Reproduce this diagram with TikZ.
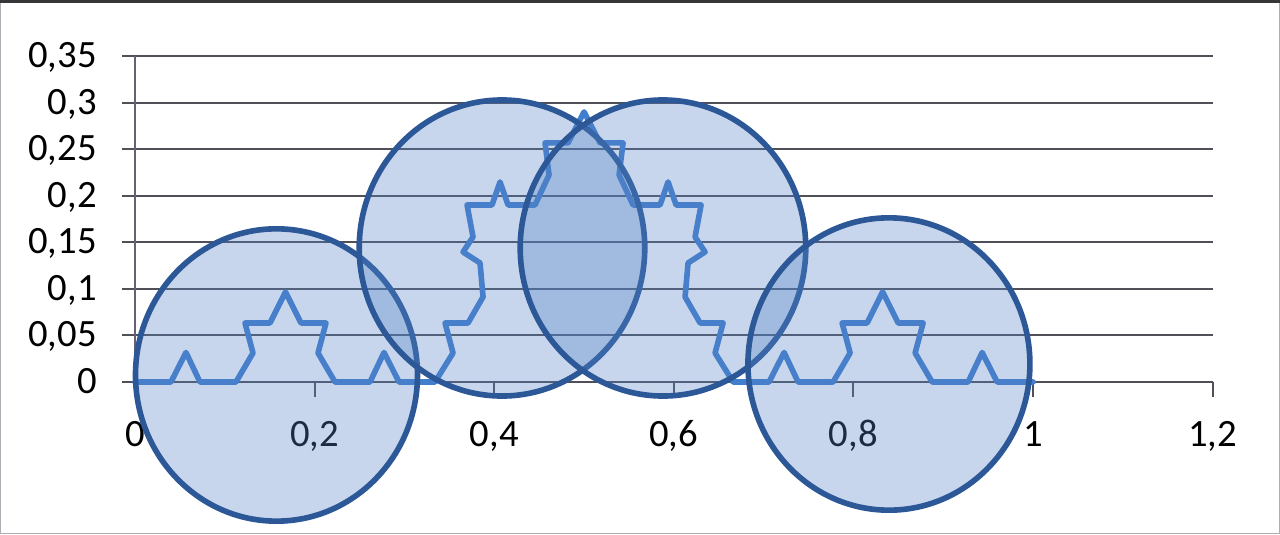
\documentclass[tikz,border=0pt]{standalone}
\usepackage{fontspec}
\setmainfont{Carlito}

\definecolor{GridGrey}{RGB}{80,80,88}
\definecolor{AxisGrey}{RGB}{105,95,118}
\definecolor{FrameGrey}{RGB}{175,172,180}
\definecolor{FrameDark}{RGB}{55,55,58}
\definecolor{KochBlue}{RGB}{66,126,206}
\definecolor{RingBlue}{RGB}{45,88,152}
\definecolor{DiscBlue}{RGB}{84,132,198}

\tikzset{
  gridline/.style={GridGrey,line width=1.1pt},
  axisline/.style={AxisGrey,line width=1.1pt},
  ticklabel/.style={font=\fontsize{22}{26}\selectfont,inner sep=0pt},
  kochline/.style={KochBlue,line width=3.2pt,line join=round,line cap=round},
  cover/.style={draw=RingBlue,line width=3.2pt,fill=DiscBlue,fill opacity=0.33},
}

\begin{document}
\begin{tikzpicture}[x=17.96cm,y=18.62cm]

  \useasboundingbox (-0.1503,-0.1633) rectangle (1.2751,0.4103);

  % chart frame
  \draw[FrameGrey,line width=0.8pt] (-0.1496,-0.1627) rectangle (1.2744,0.4097);
  \draw[FrameDark,line width=1.8pt] (-0.1503,0.4085) -- (1.2751,0.4085);

  % grid and axes
  \foreach \v in {0.05,0.1,0.15,0.2,0.25,0.3,0.35}
    \draw[gridline] (-0.0145,\v) -- (1.2,\v);
  \draw[gridline] (-0.0145,0) -- (1.2,0);
  \draw[axisline] (0,0) -- (0,0.35);
  \foreach \v in {0,0.2,0.4,0.6,0.8,1,1.2}
    \draw[gridline] (\v,0) -- (\v,-0.0161);

  % tick labels
  \foreach \v/\t [count=\i] in {0/0,0.05/{0,05},0.1/{0,1},0.15/{0,15},0.2/{0,2},0.25/{0,25},0.3/{0,3},0.35/{0,35}}
    \node[ticklabel,anchor=base east,yshift=-0.23cm] (ylab\i) at (-0.0423,\v) {\t};
  \foreach \v/\t [count=\i] in {0/0,0.2/{0,2},0.4/{0,4},0.6/{0,6},0.8/{0,8},1/1,1.2/{1,2}}
    \node[ticklabel,anchor=base] (xlab\i) at (\v,-0.0698) {\t};

  % Koch curve (plotted points)
  \begin{scope}[x=0.02cm,y=0.02cm]
    \draw[kochline]
      (0,0) -- (36,0) -- (51,29.5) -- (65,0) -- (101,0) -- (118,29) -- (110,59) -- (135,59)
      -- (150.5,90) -- (166,59) -- (191,59) -- (183,29) -- (200,0) -- (235,0) -- (249,29.5)
      -- (264,0) -- (300,0)
      -- (318,29) -- (310,59) -- (333,59) -- (348,85) -- (345,119) -- (328,130) -- (338,145)
      -- (332,177) -- (357,177) -- (365,200) -- (373,177) -- (400,177) -- (414,207) -- (410,239)
      -- (433,239) -- (449,270)
      -- (465,239) -- (488,239) -- (484,207) -- (498,177) -- (525,177) -- (533,200) -- (541,177)
      -- (566,177) -- (560,145) -- (570,130) -- (553,119) -- (550,85) -- (565,59) -- (588,59)
      -- (580,29) -- (598,0)
      -- (634,0) -- (649,29.5) -- (663,0) -- (698,0) -- (715,29) -- (707,59) -- (732,59)
      -- (747.5,90) -- (763,59) -- (788,59) -- (780,29) -- (797,0) -- (833,0) -- (847,29.5)
      -- (862,0) -- (898,0);
  \end{scope}

  % covering discs
  \path[cover] (0.1576,0.0075) circle [radius=0.157];
  \path[cover] (0.4087,0.1439) circle [radius=0.159];
  \path[cover] (0.5880,0.1439) circle [radius=0.159];
  \path[cover] (0.8396,0.0193) circle [radius=0.157];

\end{tikzpicture}
\end{document}
